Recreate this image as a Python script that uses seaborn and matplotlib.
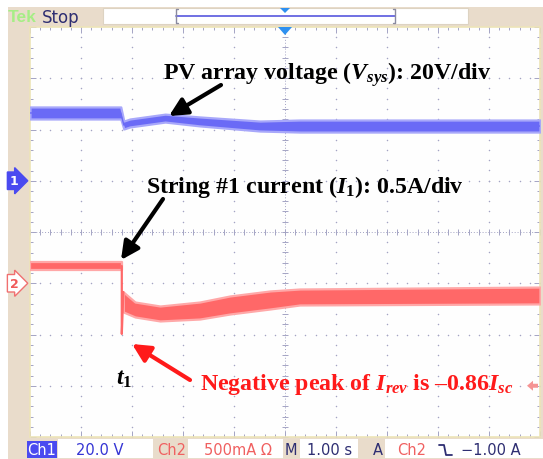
import numpy as np
import pandas as pd
import matplotlib
matplotlib.use("Agg")
import matplotlib.pyplot as plt
import seaborn as sns
from matplotlib.patches import Rectangle, Polygon
from matplotlib.lines import Line2D
from matplotlib.transforms import Affine2D

# ---- Channel 1: PV array voltage, noise envelope (V) vs time (s) ----
ch1_t = [-5.0, -3.22, -3.16, -3.04, -2.35, -1.67, -0.49, 0.29, 5.0]
ch1_hi = [28.8, 28.8, 23.3, 24.1, 26.0, 24.9, 23.3, 23.7, 23.7]
ch1_lo = [24.1, 24.1, 20.2, 21.0, 22.9, 21.4, 19.4, 19.0, 19.0]

# ---- Channel 2: string #1 current, noise envelope (A) vs time (s) ----
ch2_t = [-5.0, -3.20, -3.17, -2.94, -2.45, -1.67, -1.08, -0.29, 0.29, 5.0]
ch2_hi = [0.207, 0.207, -0.085, -0.183, -0.222, -0.183, -0.124, -0.075, -0.056, -0.037]
ch2_lo = [0.129, 0.129, -0.280, -0.329, -0.368, -0.349, -0.300, -0.251, -0.212, -0.202]

t1 = -3.20          # fault instant (s)
isc = 0.575         # short-circuit current (A)
peak_ratio = -0.86  # negative peak of reverse current, in units of Isc

# ---- Scope settings ----
volts_per_div = 20.0
amps_per_div = 0.5
ch1_pos = 1.0       # channel 1 ground marker (div)
ch2_pos = -1.0      # channel 2 ground marker (div)
trig_level = -1.00  # A
time_per_div = 1.00

W, H = 543, 460
BEIGE = "#E9DCCB"
BLUE = "#6A6AF6"
BLUE_L = "#A8A8FA"
RED = "#FF6868"
RED_L = "#FFA8A8"
NAVY = "#2E2E72"
GRIDC = "#A4A4C4"

sns.set_theme(style="white")
plt.rcParams["mathtext.fontset"] = "custom"
plt.rcParams["mathtext.rm"] = "Liberation Serif:bold"
plt.rcParams["mathtext.it"] = "Liberation Serif:italic:bold"
plt.rcParams["mathtext.bf"] = "Liberation Serif:bold"

fig = plt.figure(figsize=(W / 100, H / 100), dpi=100, facecolor="white")
# pixel coordinates, origin at top-left
pix = Affine2D().scale(1 / W, -1 / H).translate(0, 1) + fig.transFigure

# instrument bezel
fig.patches.append(Rectangle((8, 8), W - 8, H - 8, transform=pix,
                             facecolor=BEIGE, edgecolor="none", zorder=-5))

# ---- graticule ----
ax = fig.add_axes([30 / W, 1 - 438 / H, 510 / W, 410 / H])
ax.set_zorder(1)
ax.set_facecolor("#FEFEFE")
ax.set_xlim(-5, 5)
ax.set_ylim(-4, 4)
ax.xaxis.set_major_locator(plt.MultipleLocator(1))
ax.xaxis.set_minor_locator(plt.MultipleLocator(0.2))
ax.yaxis.set_major_locator(plt.MultipleLocator(1))
ax.yaxis.set_minor_locator(plt.MultipleLocator(0.2))
ax.tick_params(which="both", direction="in", top=True, right=True,
               bottom=True, left=True, labelbottom=False, labelleft=False,
               color=GRIDC, width=0.7)
ax.tick_params(which="major", length=4.5)
ax.tick_params(which="minor", length=2.2)
for s in ax.spines.values():
    s.set_color("#EDE4B8")
    s.set_linewidth(1.2)

fine_x = np.arange(-5, 5.001, 0.2)
fine_y = np.arange(-4, 4.001, 0.2)
for gx in range(-4, 5):
    if gx != 0:
        ax.scatter(np.full_like(fine_y, gx), fine_y, s=1.2, color=GRIDC,
                   linewidths=0, zorder=1)
for gy in range(-3, 4):
    if gy != 0:
        ax.scatter(fine_x, np.full_like(fine_x, gy), s=1.2, color=GRIDC,
                   linewidths=0, zorder=1)
ax.axvline(0, color=GRIDC, lw=0.7, ls=(0, (1, 2)), zorder=1)
ax.axhline(0, color=GRIDC, lw=0.7, ls=(0, (1, 2)), zorder=1)
ax.plot(np.zeros_like(fine_y), fine_y, ls="none", marker="_", ms=5,
        mew=0.7, color=GRIDC, zorder=1)
ax.plot(fine_x, np.zeros_like(fine_x), ls="none", marker="|", ms=5,
        mew=0.7, color=GRIDC, zorder=1)

# ---- traces ----
d1 = pd.DataFrame({"t": ch1_t, "hi": ch1_hi, "lo": ch1_lo})
d1["hi_d"] = d1["hi"] / volts_per_div + ch1_pos
d1["lo_d"] = d1["lo"] / volts_per_div + ch1_pos
d1["mid_d"] = (d1["hi_d"] + d1["lo_d"]) / 2
ax.fill_between(d1["t"], d1["lo_d"], d1["hi_d"], facecolor=BLUE,
                edgecolor=BLUE_L, lw=1.6, zorder=3)
sns.lineplot(data=d1, x="t", y="mid_d", color=BLUE, lw=1.0, ax=ax,
             estimator=None, sort=False, zorder=4)

d2 = pd.DataFrame({"t": ch2_t, "hi": ch2_hi, "lo": ch2_lo})
d2["hi_d"] = d2["hi"] / amps_per_div + ch2_pos
d2["lo_d"] = d2["lo"] / amps_per_div + ch2_pos
pre = d2[d2["t"] <= t1]
post = d2[d2["t"] > t1]
for part in (pre, post):
    ax.fill_between(part["t"], part["lo_d"], part["hi_d"], facecolor=RED,
                    edgecolor=RED_L, lw=1.6, zorder=3)
peak = peak_ratio * isc
spike = pd.DataFrame({
    "t": [t1, t1, post["t"].iloc[0]],
    "v": [(pre["hi_d"].iloc[-1] + pre["lo_d"].iloc[-1]) / 2,
          peak / amps_per_div + ch2_pos,
          post["hi_d"].iloc[0]],
})
sns.lineplot(data=spike, x="t", y="v", color=RED, lw=1.6, ax=ax,
             estimator=None, sort=False, zorder=4)
ax.set_xlabel("")
ax.set_ylabel("")

# ---- top status bar ----
fig.text(8, 18, "Tek", transform=pix, color="#A6EE86", fontsize=12.5,
         family="Liberation Sans", weight="bold", va="center", ha="left")
fig.text(42, 18, "Stop", transform=pix, color=NAVY, fontsize=12,
         family="DejaVu Sans", va="center", ha="left")
fig.patches.append(Rectangle((103, 9), 365, 16, transform=pix,
                             facecolor="white", edgecolor="#DDD3C2", lw=0.8))
fig.lines.append(Line2D([176, 395], [17, 17], transform=pix, color="#6464E0", lw=1.3))
fig.lines.append(Line2D([178, 176, 176, 178], [10, 10, 24, 24], transform=pix,
                        color="#8A8AA0", lw=1.0))
fig.lines.append(Line2D([393, 395, 395, 393], [10, 10, 24, 24], transform=pix,
                        color="#8A8AA0", lw=1.0))
fig.patches.append(Polygon([[280, 9], [290, 9], [285, 14]], closed=True,
                           transform=pix, facecolor="#2E90F0", edgecolor="none"))
# trigger position marker
fig.patches.append(Polygon([[278, 28], [292, 28], [285, 36]], closed=True,
                           transform=pix, facecolor="#2E90F0", edgecolor="none",
                           zorder=5))

# ---- channel ground markers ----
y1 = 233 - ch1_pos * 51.25
y2 = 233 - ch2_pos * 51.25
fig.text(14, y1, "1", transform=pix, color="white", fontsize=9, weight="bold",
         family="DejaVu Sans", ha="center", va="center",
         bbox=dict(boxstyle="rarrow,pad=0.18", fc="#4A4AF0", ec="#4A4AF0"))
fig.text(14, y2, "2", transform=pix, color="#F05A5A", fontsize=9, weight="bold",
         family="DejaVu Sans", ha="center", va="center",
         bbox=dict(boxstyle="rarrow,pad=0.18", fc="white", ec="#F07070", lw=1.0))

# trigger level marker on the right edge
ytrig = 233 - (trig_level / amps_per_div + ch2_pos) * 51.25
fig.patches.append(Polygon([[527, ytrig], [533, ytrig - 5], [533, ytrig - 2],
                            [538, ytrig - 2], [538, ytrig + 2], [533, ytrig + 2],
                            [533, ytrig + 5]], closed=True, transform=pix,
                           facecolor="#F59494", edgecolor="none", zorder=6))

# ---- bottom readout bar ----
by = 451
fig.patches.append(Rectangle((27, 442), 30, 17, transform=pix,
                             facecolor="#4A4AF0", edgecolor="none"))
fig.text(42, by, "Ch1", transform=pix, color="white", fontsize=10.5,
         family="DejaVu Sans", ha="center", va="center")
for x0, w in [(58, 95), (188, 95), (300, 58), (385, 158)]:
    fig.patches.append(Rectangle((x0, 440), w, 19, transform=pix,
                                 facecolor="white", edgecolor="none"))
fig.text(100, by, f"{volts_per_div:.1f} V", transform=pix, color="#3434D4",
         fontsize=10.5, family="DejaVu Sans", ha="center", va="center")
fig.text(172, by, "Ch2", transform=pix, color="#F06060", fontsize=10.5,
         family="DejaVu Sans", ha="center", va="center")
fig.text(238, by, f"{amps_per_div * 1000:.0f}mA \u03A9", transform=pix,
         color="#F06060", fontsize=10.5, family="DejaVu Sans",
         ha="center", va="center")
fig.text(291, by, "M", transform=pix, color=NAVY, fontsize=10.5,
         family="DejaVu Sans", ha="center", va="center")
fig.text(330, by, f"{time_per_div:.2f} s", transform=pix, color=NAVY,
         fontsize=10.5, family="DejaVu Sans", ha="center", va="center")
fig.text(378, by, "A", transform=pix, color=NAVY, fontsize=10.5,
         family="DejaVu Sans", ha="center", va="center")
fig.text(412, by, "Ch2", transform=pix, color="#F06060", fontsize=10.5,
         family="DejaVu Sans", ha="center", va="center")
fig.lines.append(Line2D([439, 444, 446, 452], [446, 446, 456, 456],
                        transform=pix, color=NAVY, lw=1.3))
fig.text(491, by, f"\u2212{abs(trig_level):.2f} A", transform=pix, color=NAVY,
         fontsize=10.5, family="DejaVu Sans", ha="center", va="center")

# ---- annotations ----
serif = dict(family="Liberation Serif", weight="bold", fontsize=17.2)
fig.text(163, 80, f"PV array voltage ($V_{{sys}}$): {volts_per_div:.0f}V/div",
         transform=pix, color="black", ha="left", va="baseline", zorder=8, **serif)
fig.text(146, 193, f"String #1 current ($I_{{\\mathit{{1}}}}$): {amps_per_div}A/div",
         transform=pix, color="black", ha="left", va="baseline", zorder=8, **serif)
fig.text(116, 385, "$t_{\\mathit{1}}$", transform=pix, color="black", ha="left",
         va="baseline", zorder=8, **serif)
fig.text(200, 390,
         f"Negative peak of $I_{{rev}}$ is \u2013{abs(peak_ratio):.2f}$I_{{sc}}$",
         transform=pix, color="#FF1A1A", ha="left", va="baseline", zorder=8, **serif)

arrow_k = dict(arrowstyle="-|>,head_length=0.9,head_width=0.45", lw=3,
               color="black", mutation_scale=12, shrinkA=0, shrinkB=0)
ax.annotate("", xy=(169, 117), xytext=(221, 86), xycoords=pix,
            textcoords=pix, arrowprops=arrow_k, zorder=7)
ax.annotate("", xy=(121, 261), xytext=(163, 200), xycoords=pix,
            textcoords=pix, arrowprops=arrow_k, zorder=7)
arrow_r = dict(arrow_k, color="#FF1A1A")
ax.annotate("", xy=(132, 345), xytext=(190, 381), xycoords=pix,
            textcoords=pix, arrowprops=arrow_r, zorder=7)

fig.savefig("out.png", dpi=100, facecolor=fig.get_facecolor())
